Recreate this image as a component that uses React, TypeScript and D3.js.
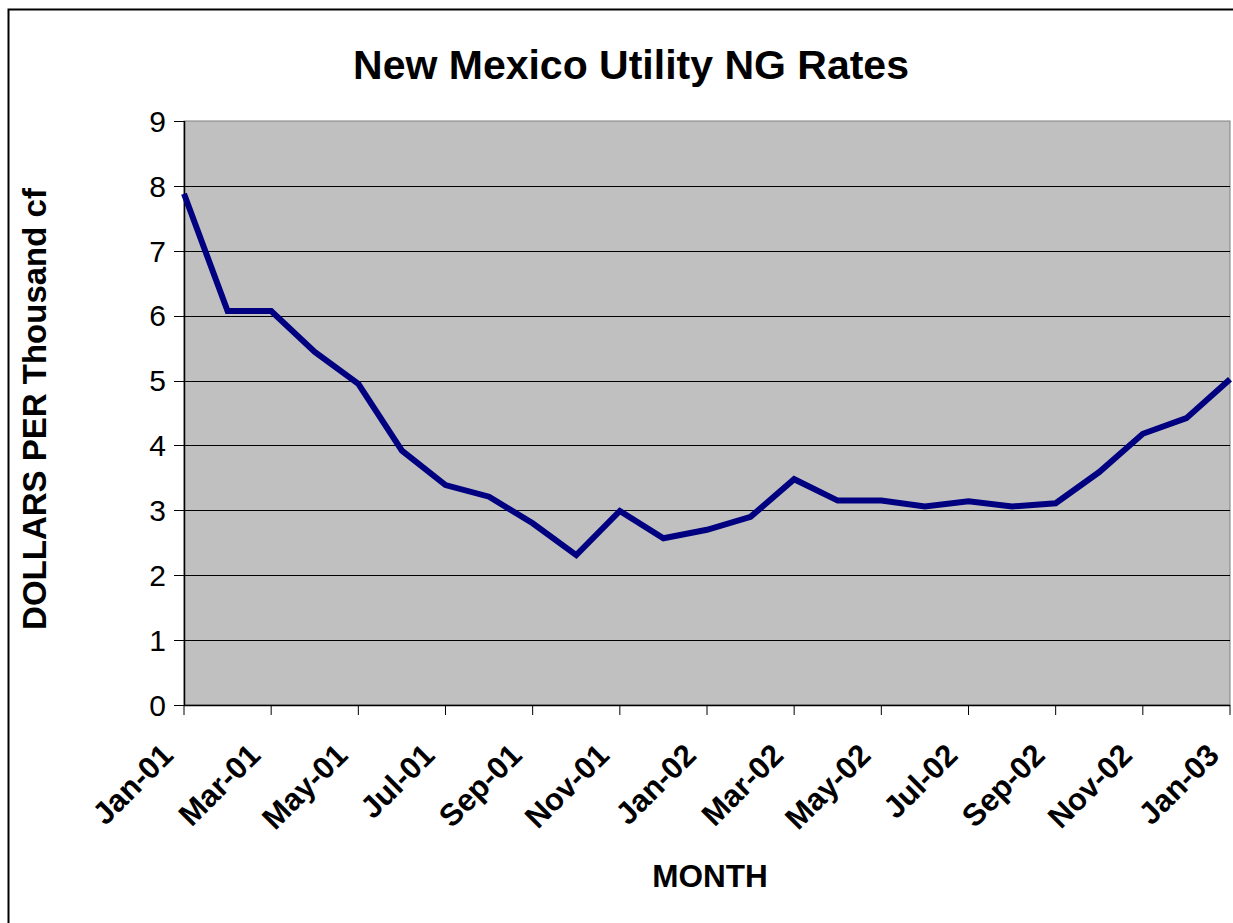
import React from "react";
import * as d3 from "d3";

const months: string[] = [
  "Jan-01","Feb-01","Mar-01","Apr-01","May-01","Jun-01","Jul-01","Aug-01","Sep-01","Oct-01","Nov-01","Dec-01",
  "Jan-02","Feb-02","Mar-02","Apr-02","May-02","Jun-02","Jul-02","Aug-02","Sep-02","Oct-02","Nov-02","Dec-02",
  "Jan-03",
];
const rates: number[] = [
  7.88, 6.07, 6.07, 5.44, 4.95, 3.92, 3.39, 3.21, 2.80, 2.31, 2.99, 2.57,
  2.70, 2.90, 3.48, 3.15, 3.15, 3.06, 3.14, 3.06, 3.11, 3.59, 4.18, 4.42,
  5.02,
];
const yTicks: number[] = [0, 1, 2, 3, 4, 5, 6, 7, 8, 9];
const title = "New Mexico Utility NG Rates";
const xTitle = "MONTH";
const yTitle = "DOLLARS PER Thousand cf";

const W = 1233;
const H = 923;
const left = 184;
const right = 1230;
const top = 121;
const bottom = 705;
const font = "'Liberation Sans', Arial, Helvetica, sans-serif";

export default function App() {
  const x = d3.scalePoint<string>().domain(months).range([left, right]);
  const y = d3.scaleLinear().domain([0, 9]).range([bottom, top]);
  const line = d3
    .line<number>()
    .x((_, i) => x(months[i]) as number)
    .y((d) => y(d));
  const labeled = months.filter((_, i) => i % 2 === 0);

  return (
    <svg
      width={W}
      height={H}
      style={{ position: "absolute", left: 0, top: 0, background: "#fff" }}
      fontFamily={font}
    >
      <rect x={8.5} y={9.5} width={W + 10} height={H + 10} fill="#fff" stroke="#000" strokeWidth={2} />
      <text x={631} y={79} textAnchor="middle" fontSize={41} fontWeight="bold">
        {title}
      </text>
      <rect x={left} y={top} width={right - left} height={bottom - top} fill="#c0c0c0" stroke="#808080" strokeWidth={1} />
      {yTicks.filter((t) => t > 0 && t < 9).map((t) => (
        <line key={"g" + t} x1={left} x2={right} y1={Math.round(y(t)) + 0.5} y2={Math.round(y(t)) + 0.5} stroke="#000" strokeWidth={1} />
      ))}
      {yTicks.map((t) => (
        <g key={"yt" + t}>
          <line x1={left - 10} x2={left} y1={Math.round(y(t)) + 0.5} y2={Math.round(y(t)) + 0.5} stroke="#000" strokeWidth={1} />
          <text x={166} y={y(t)} dy="0.36em" textAnchor="end" fontSize={30}>
            {t}
          </text>
        </g>
      ))}
      <line x1={left + 0.5} x2={left + 0.5} y1={top} y2={bottom} stroke="#000" strokeWidth={1.5} />
      <line x1={left} x2={right} y1={bottom + 0.5} y2={bottom + 0.5} stroke="#000" strokeWidth={1.5} />
      {labeled.map((m) => {
        const px = x(m) as number;
        return (
          <g key={"xt" + m}>
            <line x1={px} x2={px} y1={bottom} y2={bottom + 10} stroke="#000" strokeWidth={1} />
            <text
              transform={`translate(${px - 9},${bottom + 52}) rotate(-45)`}
              textAnchor="end"
              fontSize={31}
              fontWeight="bold"
            >
              {m}
            </text>
          </g>
        );
      })}
      <path d={line(rates) || ""} fill="none" stroke="#000080" strokeWidth={6} strokeLinejoin="miter" />
      <text x={710} y={887} textAnchor="middle" fontSize={31.5} fontWeight="bold">
        {xTitle}
      </text>
      <text transform={`translate(46,409) rotate(-90)`} textAnchor="middle" fontSize={33} fontWeight="bold">
        {yTitle}
      </text>
    </svg>
  );
}
